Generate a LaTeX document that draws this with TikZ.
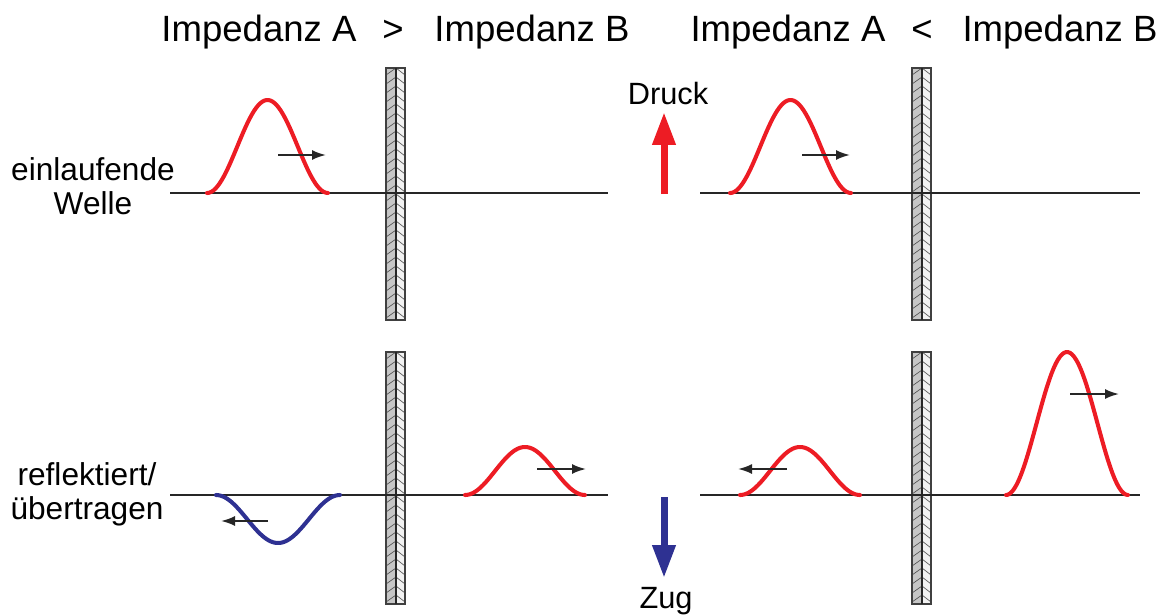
\documentclass[tikz,border=0pt]{standalone}
\usepackage{fontspec}
\setmainfont{Liberation Sans}
\usetikzlibrary{arrows.meta,positioning,calc}
\usepackage{xcolor}

\definecolor{druckrot}{RGB}{237,28,36}
\definecolor{zugblau}{RGB}{46,49,146}

% Wand: linke obere Ecke (x,y)
\newcommand{\wand}[2]{%
  \fill[gray!45] (#1,#2) rectangle ++(10,252);
  \fill[gray!10] (#1+10,#2) rectangle ++(9,252);
  \begin{scope}
    \clip (#1,#2) rectangle ++(19,252);
    \foreach \k in {0,...,29}
      \draw[gray!60!black, line width=0.35pt] (#1,#2+\k*9+7) -- ++(10,-7) -- ++(9,7);
  \end{scope}
  \draw[black!75, line width=0.7pt] (#1,#2) rectangle ++(19,252);
  \draw[black!85, line width=1.1pt] (#1+10,#2) -- ++(0,252);
}
% Puls: Start (x,y), Breite, Hoehe, Stil
\newcommand{\puls}[5]{%
  \draw[#5] plot[variable=\t, domain=0:1, samples=60, smooth] ({#1+#3*\t},{#2-#4*(1-cos(360*\t))/2});
}

\begin{document}
\begin{tikzpicture}[x=0.02cm, y=-0.02cm]
  \tikzstyle{titel} = [anchor=base, inner sep=0pt, font=\fontsize{20.8}{25}\selectfont]
  \tikzstyle{label} = [anchor=base, inner sep=0pt, align=center, font=\fontsize{18}{19}\selectfont]
  \tikzstyle{achse} = [draw, black!85, line width=1.1pt]
  \tikzstyle{welle} = [line width=2.3pt, line cap=round]
  \tikzstyle{pfeil} = [draw, black!85, line width=1.1pt, -{Latex[length=2.8mm,width=2mm]}]
  \tikzstyle{gross} = [draw, line width=0.14cm, -{Triangle[length=0.66cm,width=0.44cm]}]

  \useasboundingbox (0,0) rectangle (1165,615);

  % Ueberschriften
  \node[titel] (impAl) at (259,42) {Impedanz A};
  \node[titel] (groesser) at (393,42) {>};
  \node[titel] (impBl) at (532,42) {Impedanz B};
  \node[titel] (impAr) at (788,42) {Impedanz A};
  \node[titel] (kleiner) at (922,42) {<};
  \node[titel] (impBr) at (1060,42) {Impedanz B};

  \node[label] (ein) at (93,214) {einlaufende\\Welle};
  \node[label] (refl) at (87,519) {reflektiert/\\übertragen};

  % Waende
  \wand{386}{68}
  \wand{386}{352}
  \wand{912}{68}
  \wand{912}{352}

  % Achsen
  \path[achse] (170,193) -- (608,193);
  \path[achse] (700,193) -- (1140,193);
  \path[achse] (170,495) -- (608,495);
  \path[achse] (700,495) -- (1140,495);

  % Pulse
  \puls{207}{193}{121}{93}{welle, druckrot}
  \puls{730}{193}{121}{93}{welle, druckrot}
  \puls{216}{495}{124}{-48}{welle, zugblau}
  \puls{465}{495}{120}{48}{welle, druckrot}
  \puls{740}{495}{120}{48}{welle, druckrot}
  \puls{1006}{495}{122}{143}{welle, druckrot}

  % Laufrichtung
  \coordinate (a1) at (278,155); \coordinate (b1) at (326,155);
  \coordinate (a2) at (802,155); \coordinate (b2) at (850,155);
  \coordinate (a3) at (268,521); \coordinate (b3) at (221,521);
  \coordinate (a4) at (537,469); \coordinate (b4) at (586,469);
  \coordinate (a5) at (787,469); \coordinate (b5) at (738,469);
  \coordinate (a6) at (1070,394); \coordinate (b6) at (1119,394);
  \foreach \i in {1,...,6}
    \path[pfeil] (a\i) -- (b\i);

  % Druck / Zug
  \node[titel, font=\fontsize{17.5}{21}\selectfont] (druck) at (668,105) {Druck};
  \node[titel, font=\fontsize{17.5}{21}\selectfont] (zug) at (666,608) {Zug};
  \coordinate (dfuss) at (664,194);
  \coordinate (dspitze) at (664,112);
  \coordinate (zkopf) at (664,497);
  \coordinate (zspitze) at (664,578);
  \path[gross, druckrot] (dfuss) -- (dspitze);
  \path[gross, zugblau] (zkopf) -- (zspitze);
\end{tikzpicture}
\end{document}
